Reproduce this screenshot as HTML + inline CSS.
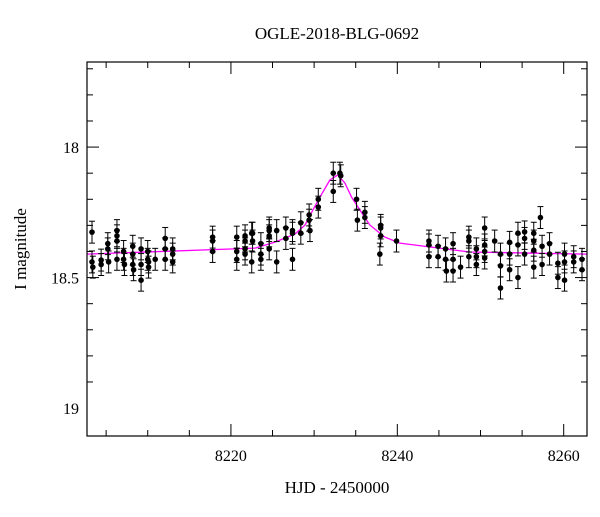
<!DOCTYPE html>
<html><head><meta charset="utf-8"><style>
body{margin:0;background:#fff}
svg text{font-family:"Liberation Serif",serif;fill:#000}
</style></head><body>
<svg id="chart" width="600" height="512" viewBox="0 0 600 512" xmlns="http://www.w3.org/2000/svg">
<text x="337" y="39" font-size="17" text-anchor="middle">OGLE-2018-BLG-0692</text>
<text x="337" y="493" font-size="17" text-anchor="middle">HJD - 2450000</text>
<text x="26" y="249" font-size="17" text-anchor="middle" transform="rotate(-90 26 249)">I magnitude</text>
<g id="axes"></g><g id="model"></g><g id="points"></g>
<rect x="87" y="62" width="500" height="374" fill="none" stroke="#000" stroke-width="1.2"/>
</svg>
<script>
const xTicks=[8220,8240,8260];
const yTicks=[18,18.5,19];
const modelT=[8202.7,8222.9,8225.3,8227.7,8228.9,8229.85,8230.7,8231.9,8232.85,8233.7,8234.5,8235.5,8236.7,8238.5,8240.3,8248.7,8262.8];
const modelMag=[18.41,18.387,18.364,18.333,18.299,18.241,18.192,18.126,18.107,18.138,18.192,18.241,18.299,18.345,18.368,18.402,18.41];
const times=[8203.3,8203.3,8203.4,8204.4,8204.4,8205.2,8205.2,8205.3,8206.3,8206.3,8206.3,8206.3,8207.1,8207.1,8207.2,8208.2,8208.2,8208.2,8208.3,8209.2,8209.2,8209.2,8210.0,8210.0,8210.1,8210.1,8210.9,8212.1,8212.1,8212.1,8213.0,8213.0,8213.0,8217.8,8217.8,8217.8,8220.7,8220.7,8220.7,8221.7,8221.7,8221.7,8221.7,8222.5,8222.5,8222.6,8222.6,8223.6,8223.6,8223.6,8224.6,8224.6,8224.6,8224.6,8225.5,8225.5,8226.6,8226.6,8227.4,8227.4,8227.4,8228.4,8228.4,8229.4,8229.4,8229.5,8230.5,8230.5,8232.3,8232.3,8233.1,8233.2,8235.1,8235.2,8236.1,8236.1,8238.0,8238.0,8238.0,8237.9,8239.9,8243.8,8243.8,8243.8,8244.9,8244.9,8245.8,8245.8,8245.9,8246.7,8246.7,8246.7,8247.6,8248.6,8248.6,8248.6,8249.5,8249.5,8249.5,8250.5,8250.5,8250.5,8250.5,8251.7,8252.4,8252.4,8252.4,8253.5,8253.5,8253.5,8254.5,8254.5,8254.5,8255.3,8255.3,8255.3,8256.4,8256.4,8256.4,8256.4,8257.2,8257.4,8257.4,8258.3,8258.3,8259.3,8259.3,8260.1,8260.1,8260.1,8261.2,8261.2,8262.2,8262.2];
const mags=[18.326,18.44,18.46,18.433,18.45,18.37,18.39,18.44,18.32,18.34,18.36,18.43,18.40,18.43,18.45,18.38,18.41,18.45,18.47,18.39,18.45,18.51,18.40,18.43,18.44,18.46,18.43,18.35,18.39,18.43,18.39,18.41,18.44,18.345,18.36,18.40,18.345,18.40,18.43,18.34,18.36,18.39,18.41,18.33,18.44,18.36,18.33,18.37,18.41,18.43,18.31,18.32,18.34,18.39,18.32,18.44,18.31,18.35,18.32,18.33,18.43,18.29,18.33,18.26,18.28,18.32,18.20,18.23,18.10,18.17,18.10,18.11,18.20,18.28,18.25,18.27,18.30,18.31,18.34,18.41,18.36,18.36,18.375,18.42,18.38,18.42,18.39,18.43,18.475,18.37,18.43,18.475,18.46,18.345,18.36,18.42,18.39,18.42,18.45,18.31,18.375,18.40,18.425,18.36,18.41,18.455,18.54,18.365,18.41,18.47,18.33,18.375,18.50,18.325,18.35,18.41,18.33,18.36,18.395,18.46,18.27,18.38,18.45,18.37,18.41,18.445,18.50,18.41,18.44,18.51,18.42,18.44,18.43,18.47];
const errs=times.map(()=>0.042);
const X0=8202.7,X1=8262.8,Y0=17.674,Y1=19.107,L=87,R=587,T=62,B=436;
const xs=t=>L+(t-X0)/(X1-X0)*(R-L);
const ys=m=>T+(m-Y0)/(Y1-Y0)*(B-T);
const NS="http://www.w3.org/2000/svg";
function mk(tag,attrs,parent){const e=document.createElementNS(NS,tag);for(const k in attrs)e.setAttribute(k,attrs[k]);parent.appendChild(e);return e;}
const ax=document.getElementById('axes');
for(let t=8205;t<=8260;t+=5){const x=xs(t);const maj=xTicks.includes(t);const len=maj?12:6;
 const a=mk('line',{x1:x,x2:x,y1:B,y2:B-len,stroke:'#000'},ax);
 const b=mk('line',{x1:x,x2:x,y1:T,y2:T+len,stroke:'#000'},ax);}
xTicks.forEach(t=>{const tx=mk('text',{x:xs(t),y:B+25,'font-size':'16','text-anchor':'middle'},ax);tx.textContent=t;
 });
for(let i=7;i<=19;i++){const m=i/10+17;const y=ys(m);const maj=Math.abs(m*2-Math.round(m*2))<1e-6;const len=maj?12:6;
 const a=mk('line',{x1:L,x2:L+len,y1:y,y2:y,stroke:'#000'},ax);
 const b=mk('line',{x1:R,x2:R-len,y1:y,y2:y,stroke:'#000'},ax);}
yTicks.forEach(m=>{const tx=mk('text',{x:L-8,y:ys(m)+6,'font-size':'16','text-anchor':'end'},ax);tx.textContent=m;
 });
const mg=document.getElementById('model');
const path=mk('path',{d:modelT.map((t,i)=>(i?'L':'M')+xs(t).toFixed(1)+' '+ys(modelMag[i]).toFixed(1)).join(' '),fill:'none',stroke:'#ff00ff','stroke-width':'1.3'},mg);


const pg=document.getElementById('points');
times.forEach((t,i)=>{const x=xs(t),y=ys(mags[i]),e1=ys(mags[i]-errs[i]),e2=ys(mags[i]+errs[i]);
 const g=mk('g',{stroke:'#000','stroke-width':'1'},pg);
 
 
 mk('line',{x1:x,x2:x,y1:e1,y2:e2},g);
 mk('line',{x1:x-3,x2:x+3,y1:e1,y2:e1},g);
 mk('line',{x1:x-3,x2:x+3,y1:e2,y2:e2},g);
 mk('circle',{cx:x,cy:y,r:2.8,fill:'#000',stroke:'none'},g);});
</script>
</body></html>
